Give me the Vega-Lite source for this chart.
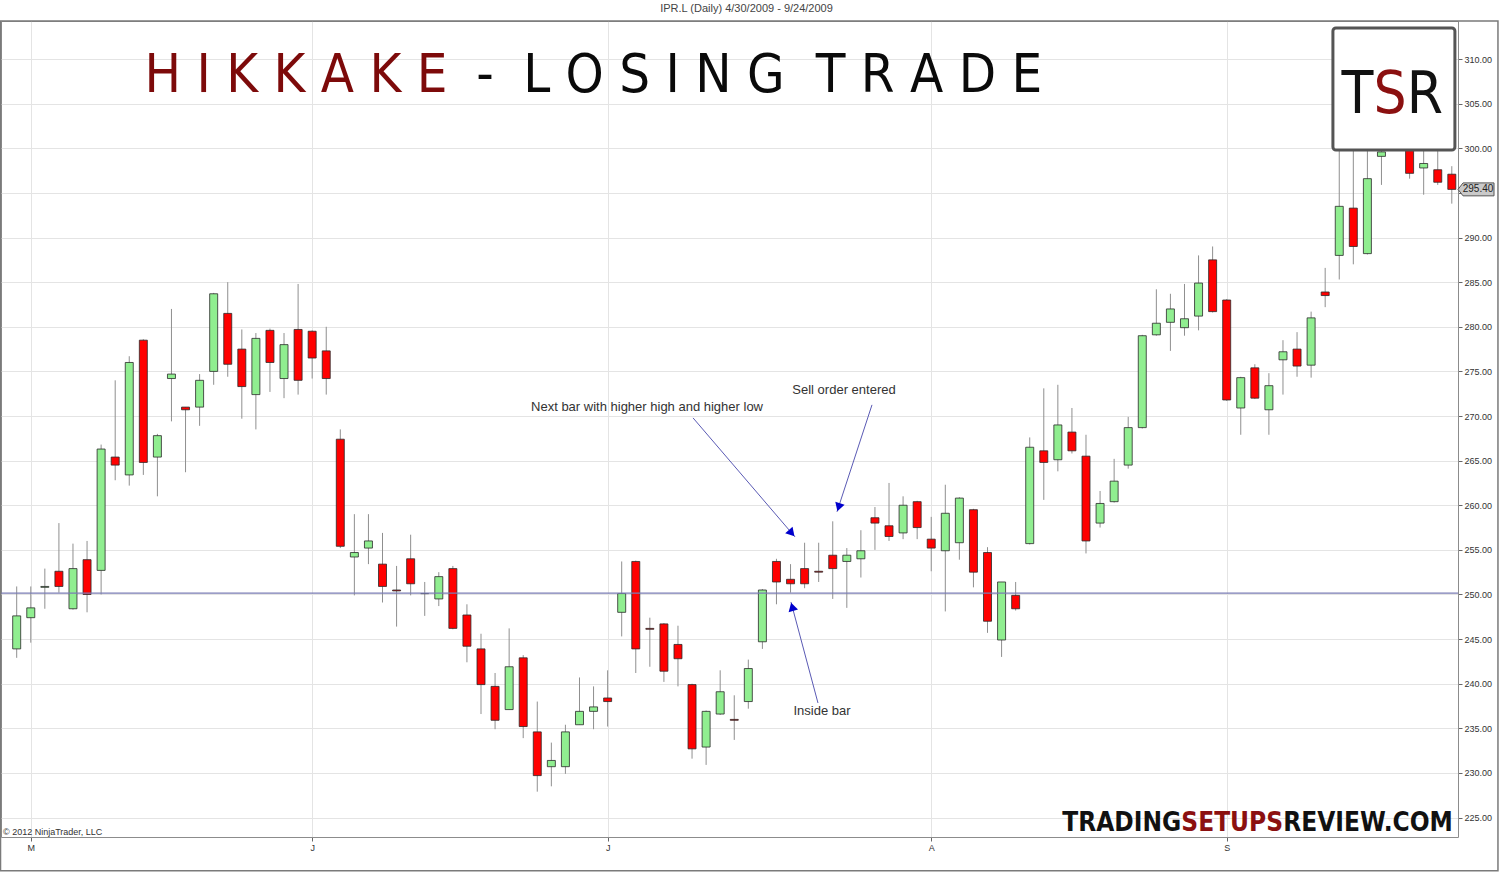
{
  "$schema": "https://vega.github.io/schema/vega-lite/v6.json",
  "width": 1457,
  "height": 816,
  "autosize": "none",
  "padding": {"left": 1, "top": 21, "right": 42, "bottom": 36},
  "background": "white",
  "title": {
    "text": "IPR.L (Daily)  4/30/2009 - 9/24/2009",
    "font": "Liberation Sans",
    "fontSize": 11,
    "fontWeight": "normal",
    "color": "#444444",
    "offset": 6,
    "dx": 17
  },
  "config": {
    "view": {"stroke": "#8c8c8c", "strokeWidth": 1},
    "font": "Liberation Sans",
    "scale": {"continuousPadding": 0},
    "axis": {
      "labelFont": "Liberation Sans",
      "labelColor": "#333333",
      "labelFontSize": 9,
      "tickColor": "#666666",
      "gridColor": "#e4e4e4",
      "gridWidth": 1,
      "domain": false
    }
  },
  "datasets": {
    "ohlc": [
      {"i": 0, "o": 243.9, "h": 250.9, "l": 242.9, "c": 247.6},
      {"i": 1, "o": 247.4, "h": 250.9, "l": 244.6, "c": 248.5},
      {"i": 2, "o": 250.8, "h": 252.9, "l": 248.4, "c": 250.9},
      {"i": 3, "o": 252.6, "h": 258.0, "l": 250.2, "c": 250.9},
      {"i": 4, "o": 248.4, "h": 255.7, "l": 248.3, "c": 252.9},
      {"i": 5, "o": 253.9, "h": 256.0, "l": 248.0, "c": 250.0},
      {"i": 6, "o": 252.7, "h": 266.8, "l": 250.0, "c": 266.3},
      {"i": 7, "o": 265.4, "h": 274.0, "l": 262.8, "c": 264.5},
      {"i": 8, "o": 263.4, "h": 276.7, "l": 262.2, "c": 276.0},
      {"i": 9, "o": 278.5, "h": 278.6, "l": 263.4, "c": 264.8},
      {"i": 10, "o": 265.4, "h": 268.0, "l": 261.0, "c": 267.8},
      {"i": 11, "o": 274.2, "h": 282.0, "l": 269.4, "c": 274.7},
      {"i": 12, "o": 271.0, "h": 271.0, "l": 263.7, "c": 270.7},
      {"i": 13, "o": 271.0, "h": 274.7, "l": 268.9, "c": 274.0},
      {"i": 14, "o": 275.0, "h": 283.8, "l": 273.5, "c": 283.7},
      {"i": 15, "o": 281.5, "h": 285.0, "l": 274.4, "c": 275.8},
      {"i": 16, "o": 277.5, "h": 279.7, "l": 269.7, "c": 273.3},
      {"i": 17, "o": 272.4, "h": 279.3, "l": 268.5, "c": 278.7},
      {"i": 18, "o": 279.6, "h": 279.8, "l": 272.7, "c": 276.0},
      {"i": 19, "o": 274.2, "h": 279.3, "l": 272.0, "c": 278.0},
      {"i": 20, "o": 279.7, "h": 284.8, "l": 272.4, "c": 274.0},
      {"i": 21, "o": 279.5, "h": 279.6, "l": 274.2, "c": 276.5},
      {"i": 22, "o": 277.3, "h": 280.0, "l": 272.4, "c": 274.2},
      {"i": 23, "o": 267.4, "h": 268.5, "l": 255.2, "c": 255.4},
      {"i": 24, "o": 254.2, "h": 259.0, "l": 249.9, "c": 254.7},
      {"i": 25, "o": 255.2, "h": 259.0, "l": 253.4, "c": 256.0},
      {"i": 26, "o": 253.4, "h": 256.9, "l": 249.1, "c": 250.9},
      {"i": 27, "o": 250.5, "h": 253.2, "l": 246.4, "c": 250.4},
      {"i": 28, "o": 254.0, "h": 256.7, "l": 249.9, "c": 251.2},
      {"i": 29, "o": 250.1, "h": 251.4, "l": 247.6, "c": 250.1},
      {"i": 30, "o": 249.5, "h": 252.5, "l": 248.7, "c": 252.0},
      {"i": 31, "o": 252.9, "h": 253.2, "l": 246.1, "c": 246.2},
      {"i": 32, "o": 247.7, "h": 248.9, "l": 242.4, "c": 244.2},
      {"i": 33, "o": 243.9, "h": 245.6, "l": 236.6, "c": 239.9},
      {"i": 34, "o": 239.7, "h": 241.2, "l": 234.9, "c": 235.9},
      {"i": 35, "o": 237.1, "h": 246.2, "l": 237.1, "c": 241.9},
      {"i": 36, "o": 242.9, "h": 243.2, "l": 233.9, "c": 235.2},
      {"i": 37, "o": 234.6, "h": 238.0, "l": 227.9, "c": 229.7},
      {"i": 38, "o": 230.7, "h": 233.4, "l": 228.5, "c": 231.4},
      {"i": 39, "o": 230.7, "h": 235.4, "l": 229.9, "c": 234.6},
      {"i": 40, "o": 235.4, "h": 240.7, "l": 235.4, "c": 236.9},
      {"i": 41, "o": 236.9, "h": 239.7, "l": 234.9, "c": 237.4},
      {"i": 42, "o": 238.4, "h": 241.5, "l": 235.2, "c": 238.0},
      {"i": 43, "o": 248.0, "h": 253.7, "l": 245.3, "c": 250.1},
      {"i": 44, "o": 253.7, "h": 253.8, "l": 241.2, "c": 243.9},
      {"i": 45, "o": 246.2, "h": 247.4, "l": 241.9, "c": 246.1},
      {"i": 46, "o": 246.7, "h": 246.8, "l": 240.2, "c": 241.4},
      {"i": 47, "o": 244.4, "h": 246.5, "l": 239.7, "c": 242.8},
      {"i": 48, "o": 239.9, "h": 240.0, "l": 231.6, "c": 232.7},
      {"i": 49, "o": 232.9, "h": 237.0, "l": 230.9, "c": 236.9},
      {"i": 50, "o": 236.6, "h": 241.5, "l": 236.5, "c": 239.1},
      {"i": 51, "o": 236.0, "h": 238.7, "l": 233.7, "c": 235.9},
      {"i": 52, "o": 238.0, "h": 242.7, "l": 237.2, "c": 241.7},
      {"i": 53, "o": 244.7, "h": 250.6, "l": 243.9, "c": 250.5},
      {"i": 54, "o": 253.7, "h": 254.0, "l": 248.9, "c": 251.4},
      {"i": 55, "o": 251.7, "h": 253.4, "l": 250.2, "c": 251.2},
      {"i": 56, "o": 252.9, "h": 255.8, "l": 250.7, "c": 251.2},
      {"i": 57, "o": 252.6, "h": 255.8, "l": 251.4, "c": 252.5},
      {"i": 58, "o": 254.4, "h": 258.2, "l": 249.5, "c": 252.9},
      {"i": 59, "o": 253.7, "h": 255.2, "l": 248.5, "c": 254.4},
      {"i": 60, "o": 254.0, "h": 257.2, "l": 251.9, "c": 254.9},
      {"i": 61, "o": 258.6, "h": 259.8, "l": 255.0, "c": 258.0},
      {"i": 62, "o": 257.7, "h": 262.5, "l": 256.0, "c": 256.5},
      {"i": 63, "o": 256.9, "h": 261.0, "l": 256.2, "c": 260.0},
      {"i": 64, "o": 260.4, "h": 260.5, "l": 256.2, "c": 257.5},
      {"i": 65, "o": 256.2, "h": 258.7, "l": 252.6, "c": 255.2},
      {"i": 66, "o": 254.9, "h": 262.3, "l": 248.1, "c": 259.1},
      {"i": 67, "o": 255.8, "h": 260.9, "l": 253.9, "c": 260.8},
      {"i": 68, "o": 259.5, "h": 259.6, "l": 250.8, "c": 252.5},
      {"i": 69, "o": 254.7, "h": 255.3, "l": 245.7, "c": 247.0},
      {"i": 70, "o": 244.9, "h": 251.4, "l": 243.0, "c": 251.4},
      {"i": 71, "o": 249.9, "h": 251.4, "l": 248.2, "c": 248.4},
      {"i": 72, "o": 255.7, "h": 267.6, "l": 255.6, "c": 266.5},
      {"i": 73, "o": 266.1, "h": 273.1, "l": 260.6, "c": 264.8},
      {"i": 74, "o": 265.1, "h": 273.5, "l": 263.8, "c": 269.0},
      {"i": 75, "o": 268.2, "h": 270.9, "l": 265.8, "c": 266.1},
      {"i": 76, "o": 265.5, "h": 267.9, "l": 254.6, "c": 256.0},
      {"i": 77, "o": 258.0, "h": 261.6, "l": 257.5, "c": 260.2},
      {"i": 78, "o": 260.4, "h": 265.2, "l": 260.3, "c": 262.7},
      {"i": 79, "o": 264.5, "h": 269.9, "l": 264.1, "c": 268.7},
      {"i": 80, "o": 268.7, "h": 279.1, "l": 268.6, "c": 279.0},
      {"i": 81, "o": 279.1, "h": 284.2, "l": 279.0, "c": 280.4},
      {"i": 82, "o": 280.5, "h": 283.7, "l": 277.3, "c": 282.0},
      {"i": 83, "o": 279.9, "h": 284.8, "l": 279.0, "c": 280.9},
      {"i": 84, "o": 281.2, "h": 288.0, "l": 279.6, "c": 284.9},
      {"i": 85, "o": 287.5, "h": 289.0, "l": 281.6, "c": 281.7},
      {"i": 86, "o": 283.0, "h": 283.1, "l": 271.7, "c": 271.8},
      {"i": 87, "o": 270.9, "h": 274.4, "l": 267.9, "c": 274.3},
      {"i": 88, "o": 275.4, "h": 275.8, "l": 271.9, "c": 272.0},
      {"i": 89, "o": 270.7, "h": 274.8, "l": 267.9, "c": 273.4},
      {"i": 90, "o": 276.3, "h": 278.5, "l": 272.4, "c": 277.2},
      {"i": 91, "o": 277.5, "h": 279.4, "l": 274.4, "c": 275.6},
      {"i": 92, "o": 275.7, "h": 281.7, "l": 274.3, "c": 281.0},
      {"i": 93, "o": 283.9, "h": 286.6, "l": 282.2, "c": 283.5},
      {"i": 94, "o": 288.0, "h": 300.5, "l": 285.3, "c": 293.5},
      {"i": 95, "o": 293.3, "h": 300.2, "l": 287.0, "c": 289.0},
      {"i": 96, "o": 288.2, "h": 301.0, "l": 288.1, "c": 296.6},
      {"i": 97, "o": 299.1, "h": 301.5, "l": 295.9, "c": 299.6},
      {"i": 98, "o": 300.8, "h": 304.0, "l": 300.4, "c": 302.5},
      {"i": 99, "o": 299.8, "h": 301.5, "l": 296.6, "c": 297.2},
      {"i": 100, "o": 297.8, "h": 300.0, "l": 294.8, "c": 298.3},
      {"i": 101, "o": 297.6, "h": 299.9, "l": 295.9, "c": 296.2},
      {"i": 102, "o": 297.1, "h": 298.0, "l": 293.8, "c": 295.4}
    ],
    "arrows": [
      {"n": 1, "i": 48.07, "v": 269.79, "i2": 55.32, "v2": 256.45, "hi": 55.08, "hv": 256.87},
      {"n": 2, "i": 60.79, "v": 271.25, "i2": 58.3, "v2": 259.26, "hi": 58.42, "hv": 259.78},
      {"n": 3, "i": 56.95, "v": 237.84, "i2": 55.03, "v2": 249.16, "hi": 55.12, "hv": 248.62}
    ],
    "notes": [
      {"t": "Next bar with higher high and higher low", "i": 44.8, "v": 270.97},
      {"t": "Sell order entered", "i": 58.8, "v": 272.88},
      {"t": "Inside bar", "i": 57.24, "v": 236.94}
    ]
  },
  "layer": [
    {
      "data": {"name": "ohlc"},
      "mark": {"type": "rule", "color": "#8f8f8f", "strokeWidth": 1},
      "encoding": {
        "x": {
          "field": "i", "type": "quantitative",
          "scale": {"domain": [-1.116, 102.44], "nice": false, "zero": false},
          "axis": {
            "title": null,
            "values": [1, 21, 42, 65, 86],
            "labelExpr": "datum.value == 1 ? 'M' : datum.value == 21 ? 'J' : datum.value == 42 ? 'J' : datum.value == 65 ? 'A' : 'S'",
            "grid": true, "tickSize": 4, "labelPadding": 2
          }
        },
        "y": {
          "field": "l", "type": "quantitative",
          "scale": {"domain": [222.82, 314.27], "nice": false, "zero": false},
          "axis": {
            "title": null,
            "orient": "right",
            "values": [225, 230, 235, 240, 245, 250, 255, 260, 265, 270, 275, 280, 285, 290, 295, 300, 305, 310],
            "labelExpr": "datum.value == 295 ? '' : format(datum.value, '.2f')",
            "grid": true, "tickSize": 4, "labelPadding": 2
          }
        },
        "y2": {"field": "h"}
      }
    },
    {
      "data": {"name": "ohlc"},
      "mark": {"type": "bar", "size": 8, "stroke": "#2a2a2a", "strokeWidth": 0.8},
      "encoding": {
        "x": {"field": "i", "type": "quantitative", "scale": {"domain": [-1.116, 102.44], "nice": false, "zero": false}},
        "y": {"field": "o", "type": "quantitative", "scale": {"domain": [222.82, 314.27], "nice": false, "zero": false}},
        "y2": {"field": "c"},
        "color": {"condition": {"test": "datum.c >= datum.o", "value": "#90ee90"}, "value": "#ff0000"}
      }
    },
    {
      "data": {"values": [{"v": 250.16}]},
      "mark": {"type": "rule", "color": "#7a7db4", "strokeWidth": 1.3},
      "encoding": {
        "y": {"field": "v", "type": "quantitative", "scale": {"domain": [222.82, 314.27], "nice": false, "zero": false}}
      }
    },
    {
      "data": {"name": "arrows"},
      "mark": {"type": "rule", "color": "#5a5ab4", "strokeWidth": 1},
      "encoding": {
        "x": {"field": "i", "type": "quantitative", "scale": {"domain": [-1.116, 102.44], "nice": false, "zero": false}},
        "y": {"field": "v", "type": "quantitative", "scale": {"domain": [222.82, 314.27], "nice": false, "zero": false}},
        "x2": {"field": "i2"},
        "y2": {"field": "v2"}
      }
    },
    {
      "data": {"name": "arrows"},
      "transform": [{"filter": "datum.n == 1"}],
      "mark": {"type": "point", "shape": "triangle-up", "filled": true, "color": "#0000cc", "opacity": 1, "size": 95, "angle": 139},
      "encoding": {
        "x": {"field": "hi", "type": "quantitative", "scale": {"domain": [-1.116, 102.44], "nice": false, "zero": false}},
        "y": {"field": "hv", "type": "quantitative", "scale": {"domain": [222.82, 314.27], "nice": false, "zero": false}}
      }
    },
    {
      "data": {"name": "arrows"},
      "transform": [{"filter": "datum.n == 2"}],
      "mark": {"type": "point", "shape": "triangle-up", "filled": true, "color": "#0000cc", "opacity": 1, "size": 95, "angle": 198},
      "encoding": {
        "x": {"field": "hi", "type": "quantitative", "scale": {"domain": [-1.116, 102.44], "nice": false, "zero": false}},
        "y": {"field": "hv", "type": "quantitative", "scale": {"domain": [222.82, 314.27], "nice": false, "zero": false}}
      }
    },
    {
      "data": {"name": "arrows"},
      "transform": [{"filter": "datum.n == 3"}],
      "mark": {"type": "point", "shape": "triangle-up", "filled": true, "color": "#0000cc", "opacity": 1, "size": 95, "angle": 345},
      "encoding": {
        "x": {"field": "hi", "type": "quantitative", "scale": {"domain": [-1.116, 102.44], "nice": false, "zero": false}},
        "y": {"field": "hv", "type": "quantitative", "scale": {"domain": [222.82, 314.27], "nice": false, "zero": false}}
      }
    },
    {
      "data": {"name": "notes"},
      "mark": {"type": "text", "font": "Liberation Sans", "fontSize": 13, "color": "#333333", "align": "center", "baseline": "middle"},
      "encoding": {
        "x": {"field": "i", "type": "quantitative", "scale": {"domain": [-1.116, 102.44], "nice": false, "zero": false}},
        "y": {"field": "v", "type": "quantitative", "scale": {"domain": [222.82, 314.27], "nice": false, "zero": false}},
        "text": {"field": "t"}
      }
    },
    {
      "data": {"values": [{"i": 93.55, "i2": 102.22, "v": 313.48, "v2": 299.81}]},
      "mark": {"type": "rect", "fill": "white", "stroke": "#555555", "strokeWidth": 3, "cornerRadius": 3},
      "encoding": {
        "x": {"field": "i", "type": "quantitative", "scale": {"domain": [-1.116, 102.44], "nice": false, "zero": false}},
        "x2": {"field": "i2"},
        "y": {"field": "v", "type": "quantitative", "scale": {"domain": [222.82, 314.27], "nice": false, "zero": false}},
        "y2": {"field": "v2"}
      }
    },
    {
      "data": {"values": [{"i": 97.61, "v": 303.96}]},
      "layer": [
        {"mark": {"type": "text", "font": "DejaVu Sans Condensed", "fontSize": 58, "color": "#8b1010", "align": "center", "baseline": "alphabetic"}, "encoding": {"text": {"value": "S"}}},
        {"mark": {"type": "text", "font": "DejaVu Sans Condensed", "fontSize": 58, "color": "#111111", "align": "right", "baseline": "alphabetic", "dx": -16.6}, "encoding": {"text": {"value": "T"}}},
        {"mark": {"type": "text", "font": "DejaVu Sans Condensed", "fontSize": 58, "color": "#111111", "align": "left", "baseline": "alphabetic", "dx": 16.6}, "encoding": {"text": {"value": "R"}}}
      ],
      "encoding": {
        "x": {"field": "i", "type": "quantitative", "scale": {"domain": [-1.116, 102.44], "nice": false, "zero": false}},
        "y": {"field": "v", "type": "quantitative", "scale": {"domain": [222.82, 314.27], "nice": false, "zero": false}}
      }
    },
    {
      "data": {"values": [{"t": "H I K K A K E", "i": 19.85, "v": 306.31}]},
      "mark": {"type": "text", "font": "DejaVu Sans Condensed", "fontSize": 54, "color": "#7d0a0a", "align": "center", "baseline": "alphabetic"},
      "encoding": {
        "x": {"field": "i", "type": "quantitative", "scale": {"domain": [-1.116, 102.44], "nice": false, "zero": false}},
        "y": {"field": "v", "type": "quantitative", "scale": {"domain": [222.82, 314.27], "nice": false, "zero": false}},
        "text": {"field": "t"}
      }
    },
    {
      "data": {"values": [
        {"t": "-", "i": 33.28, "v": 306.31},
        {"t": "L O S I N G", "i": 45.29, "v": 306.31},
        {"t": "T R A D E", "i": 64.84, "v": 306.31}
      ]},
      "mark": {"type": "text", "font": "DejaVu Sans Condensed", "fontSize": 54, "color": "#0a0a0a", "align": "center", "baseline": "alphabetic"},
      "encoding": {
        "x": {"field": "i", "type": "quantitative", "scale": {"domain": [-1.116, 102.44], "nice": false, "zero": false}},
        "y": {"field": "v", "type": "quantitative", "scale": {"domain": [222.82, 314.27], "nice": false, "zero": false}},
        "text": {"field": "t"}
      }
    },
    {
      "data": {"values": [{"i": 86.39, "v": 223.49}]},
      "layer": [
        {"mark": {"type": "text", "font": "DejaVu Sans Condensed", "fontWeight": "bold", "fontSize": 26, "color": "#8b1010", "align": "center", "baseline": "alphabetic"}, "encoding": {"text": {"value": "SETUPS"}}},
        {"mark": {"type": "text", "font": "DejaVu Sans Condensed", "fontWeight": "bold", "fontSize": 26, "color": "#111111", "align": "right", "baseline": "alphabetic", "dx": -51}, "encoding": {"text": {"value": "TRADING"}}},
        {"mark": {"type": "text", "font": "DejaVu Sans Condensed", "fontWeight": "bold", "fontSize": 26, "color": "#111111", "align": "left", "baseline": "alphabetic", "dx": 51}, "encoding": {"text": {"value": "REVIEW.COM"}}}
      ],
      "encoding": {
        "x": {"field": "i", "type": "quantitative", "scale": {"domain": [-1.116, 102.44], "nice": false, "zero": false}},
        "y": {"field": "v", "type": "quantitative", "scale": {"domain": [222.82, 314.27], "nice": false, "zero": false}}
      }
    },
    {
      "data": {"values": [{"t": "© 2012 NinjaTrader, LLC", "i": -0.974, "v": 223.05}]},
      "mark": {"type": "text", "font": "Liberation Sans", "fontSize": 9, "color": "#333333", "align": "left", "baseline": "alphabetic"},
      "encoding": {
        "x": {"field": "i", "type": "quantitative", "scale": {"domain": [-1.116, 102.44], "nice": false, "zero": false}},
        "y": {"field": "v", "type": "quantitative", "scale": {"domain": [222.82, 314.27], "nice": false, "zero": false}},
        "text": {"field": "t"}
      }
    },
    {
      "data": {"values": [{"t": "295.40", "i": 103.72, "v": 295.4}]},
      "layer": [
        {"mark": {"type": "point", "shape": "M-1,0L-0.72,-0.36L1,-0.36L1,0.36L-0.72,0.36Z", "filled": true, "fill": "#c9c9c9", "stroke": "#555555", "strokeWidth": 1, "opacity": 1, "size": 1296}},
        {"mark": {"type": "text", "font": "Liberation Sans", "fontSize": 10, "color": "#222222", "align": "center", "baseline": "middle", "dx": 2}, "encoding": {"text": {"field": "t"}}}
      ],
      "encoding": {
        "x": {"field": "i", "type": "quantitative", "scale": {"domain": [-1.116, 102.44], "nice": false, "zero": false}},
        "y": {"field": "v", "type": "quantitative", "scale": {"domain": [222.82, 314.27], "nice": false, "zero": false}}
      }
    },
    {
      "data": {"values": [{"i": -1.15, "i2": 105.28, "v": 314.27, "v2": 219.04}]},
      "mark": {"type": "rect", "fill": null, "stroke": "#7a7a7a", "strokeWidth": 1.5},
      "encoding": {
        "x": {"field": "i", "type": "quantitative", "scale": {"domain": [-1.116, 102.44], "nice": false, "zero": false}},
        "x2": {"field": "i2"},
        "y": {"field": "v", "type": "quantitative", "scale": {"domain": [222.82, 314.27], "nice": false, "zero": false}},
        "y2": {"field": "v2"}
      }
    }
  ]
}
